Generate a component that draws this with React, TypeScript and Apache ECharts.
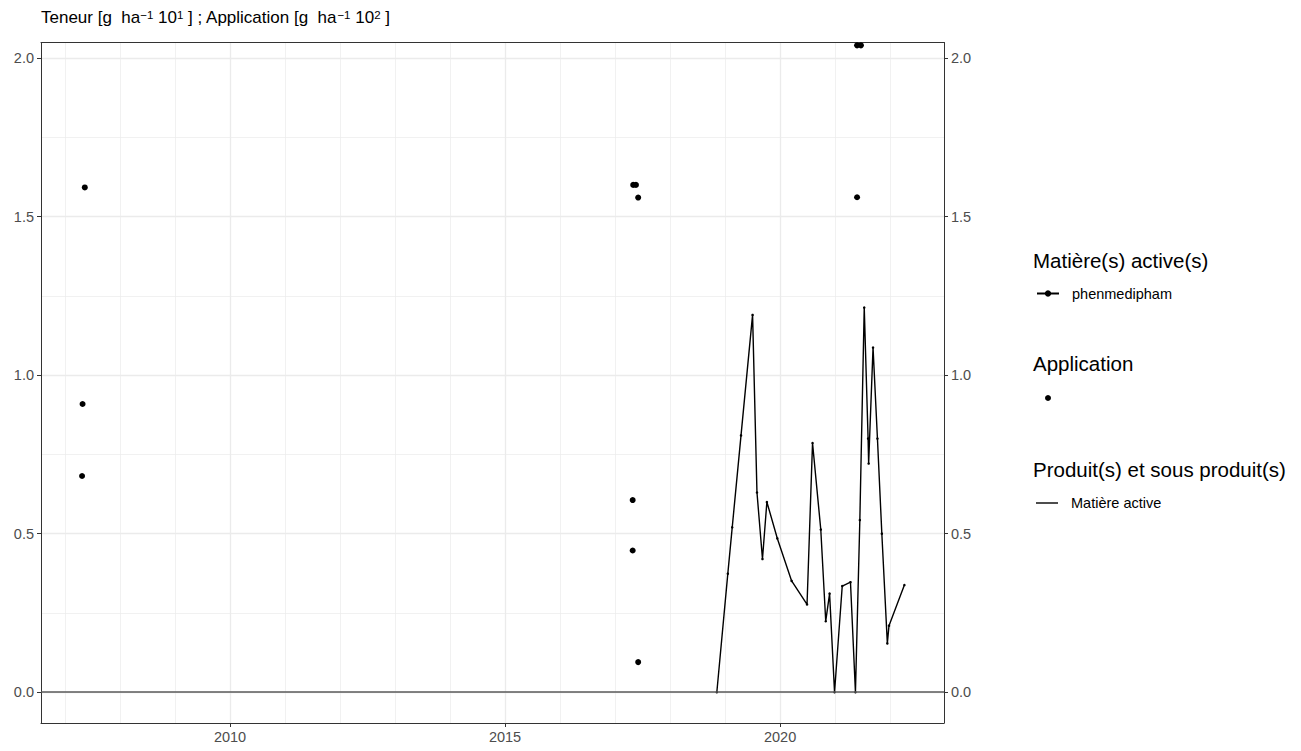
import React, { useEffect, useRef } from 'react';
import * as echarts from 'echarts';

// ---- data ----
const lineDates = [2018.85, 2019.05, 2019.13, 2019.29, 2019.5, 2019.58, 2019.68, 2019.76, 2019.95, 2020.21, 2020.49, 2020.59, 2020.74, 2020.83, 2020.9, 2020.99, 2021.13, 2021.28, 2021.37, 2021.45, 2021.53, 2021.6, 2021.61, 2021.69, 2021.77, 2021.85, 2021.95, 2021.98, 2022.26];
const lineValues = [0, 0.374, 0.52, 0.81, 1.19, 0.63, 0.42, 0.6, 0.485, 0.351, 0.277, 0.786, 0.513, 0.224, 0.311, 0, 0.335, 0.347, 0, 0.543, 1.213, 0.8, 0.721, 1.087, 0.8, 0.5, 0.154, 0.21, 0.338];

const appDates = [2007.36, 2007.32, 2007.31, 2017.33, 2017.38, 2017.42, 2017.32, 2017.32, 2017.42, 2021.4, 2021.47, 2021.4];
const appValues = [1.592, 0.909, 0.682, 1.6, 1.6, 1.56, 0.606, 0.447, 0.095, 2.04, 2.04, 1.561];

const xTickLabels = [2010, 2015, 2020];
const yTickLabels = [0, 0.5, 1, 1.5, 2];

const seriesName = 'phenmedipham';
const appName = 'Application';
const productName = 'Matière active';
const legendTitles = ['Matière(s) active(s)', 'Application', 'Produit(s) et sous produit(s)'];

const X_MIN = 2006.564;
const X_MAX = 2022.98;
const Y_MIN = -0.097;
const Y_MAX = 2.049;

const FONT = '"Liberation Sans", Arial, Helvetica, sans-serif';
const GRID_COL = '#ebebeb';
const BORDER_COL = '#333333';
const AXIS_FS = 14.5;
const LEGEND_FS = 14.5;
const LEGEND_TITLE_FS = 20.5;

export default function App() {
  const ref = useRef<HTMLDivElement>(null);

  useEffect(() => {
    const chart = echarts.init(ref.current as HTMLDivElement, null, { renderer: 'svg' });

    const lineData = lineDates.map((d, i) => [d, lineValues[i]]);
    const appData = appDates.map((d, i) => [d, appValues[i]]);

    const yFmt = (v: number) =>
      Math.abs(v * 2 - Math.round(v * 2)) < 1e-6 ? v.toFixed(1) : '';
    const xFmt = (v: number) =>
      Math.abs(v / 5 - Math.round(v / 5)) < 1e-6 ? String(Math.round(v)) : '';

    const yAxisLabel = {
      customValues: yTickLabels,
      color: '#4d4d4d',
      fontSize: AXIS_FS,
      fontFamily: FONT,
      margin: 7,
      formatter: yFmt,
    };

    const option: any = {
      animation: false,
      backgroundColor: '#ffffff',
      textStyle: { fontFamily: FONT },
      grid: { left: 41, right: 357, top: 42.5, bottom: 28, containLabel: false },
      xAxis: [
        {
          type: 'value',
          position: 'bottom',
          min: X_MIN,
          max: X_MAX,
          minInterval: 5,
          maxInterval: 5,
          axisLine: { show: true, onZero: false, lineStyle: { color: BORDER_COL, width: 1 } },
          axisTick: { show: true, length: 4, lineStyle: { color: BORDER_COL }, customValues: xTickLabels },
          axisLabel: {
            customValues: xTickLabels,
            color: '#4d4d4d',
            fontSize: AXIS_FS,
            fontFamily: FONT,
            margin: 6,
            formatter: xFmt,
          },
          splitLine: { show: true, lineStyle: { color: GRID_COL, width: 1.3 } },
        },
        {
          type: 'value',
          position: 'top',
          min: X_MIN,
          max: X_MAX,
          minInterval: 1,
          maxInterval: 1,
          axisLine: { show: true, onZero: false, lineStyle: { color: BORDER_COL, width: 1 } },
          axisTick: { show: false },
          axisLabel: { show: false },
          splitLine: { show: true, lineStyle: { color: GRID_COL, width: 0.7 } },
        },
      ],
      yAxis: [
        {
          type: 'value',
          position: 'left',
          min: Y_MIN,
          max: Y_MAX,
          minInterval: 0.5,
          maxInterval: 0.5,
          axisLine: { show: true, onZero: false, lineStyle: { color: BORDER_COL, width: 1 } },
          axisTick: { show: true, length: 4, lineStyle: { color: BORDER_COL }, customValues: yTickLabels },
          axisLabel: yAxisLabel,
          splitLine: { show: true, lineStyle: { color: GRID_COL, width: 1.3 } },
        },
        {
          type: 'value',
          position: 'right',
          min: Y_MIN,
          max: Y_MAX,
          minInterval: 0.5,
          maxInterval: 0.5,
          axisLine: { show: true, onZero: false, lineStyle: { color: BORDER_COL, width: 1 } },
          axisTick: { show: true, length: 4, lineStyle: { color: BORDER_COL }, customValues: yTickLabels },
          axisLabel: yAxisLabel,
          splitLine: { show: false },
        },
        {
          type: 'value',
          position: 'left',
          min: Y_MIN,
          max: Y_MAX,
          minInterval: 0.25,
          maxInterval: 0.25,
          axisLine: { show: false },
          axisTick: { show: false },
          axisLabel: { show: false },
          splitLine: { show: true, lineStyle: { color: GRID_COL, width: 0.7 } },
        },
      ],
      legend: [
        {
          data: [seriesName],
          left: 1036,
          top: 286,
          padding: 0,
          itemWidth: 22,
          itemHeight: 8,
          selectedMode: false,
          textStyle: { color: '#000', fontSize: LEGEND_FS, fontFamily: FONT, padding: [0, 0, 0, 8] },
        },
        {
          data: [appName],
          left: 1045,
          top: 395,
          padding: 0,
          itemWidth: 6,
          itemHeight: 6,
          selectedMode: false,
          formatter: () => '',
          textStyle: { color: '#000', fontSize: LEGEND_FS, fontFamily: FONT },
        },
        {
          data: [{ name: productName, icon: 'path://M0,0H22V1.4H0Z' }],
          left: 1036,
          top: 495.5,
          padding: 0,
          itemWidth: 22,
          itemHeight: 1.4,
          selectedMode: false,
          textStyle: { color: '#000', fontSize: LEGEND_FS, fontFamily: FONT, padding: [0, 0, 0, 8] },
        },
      ],
      graphic: [
        {
          type: 'text',
          x: 41,
          y: 9,
          style: {
            text:
              'Teneur [g  ha{sup|−1} 10{sup|1} ] ; Application [g  ha{sup|−1} 10{sup|2} ]',
            font: `17px ${FONT}`,
            fill: '#000',
            rich: {
              sup: { fontSize: 11.5, fontFamily: FONT, verticalAlign: 'top', lineHeight: 10, fill: '#000' },
            },
          },
        },
        {
          type: 'text',
          x: 1033,
          y: 260,
          style: { text: legendTitles[0], font: `${LEGEND_TITLE_FS}px ${FONT}`, fill: '#000', verticalAlign: 'middle' },
        },
        {
          type: 'text',
          x: 1033,
          y: 363,
          style: { text: legendTitles[1], font: `${LEGEND_TITLE_FS}px ${FONT}`, fill: '#000', verticalAlign: 'middle' },
        },
        {
          type: 'text',
          x: 1033,
          y: 469,
          style: { text: legendTitles[2], font: `${LEGEND_TITLE_FS}px ${FONT}`, fill: '#000', verticalAlign: 'middle' },
        },
      ],
      series: [
        {
          name: seriesName,
          type: 'line',
          xAxisIndex: 0,
          yAxisIndex: 0,
          data: lineData,
          symbol: 'circle',
          symbolSize: 2.5,
          showSymbol: true,
          color: '#000',
          lineStyle: { color: '#000', width: 1.4 },
          itemStyle: { color: '#000', opacity: 1 },
          z: 3,
          markLine: {
            silent: true,
            symbol: ['none', 'none'],
            label: { show: false },
            lineStyle: { color: '#5a5a5a', width: 1.6, type: 'solid', opacity: 1 },
            data: [{ yAxis: 0 }],
          },
        },
        {
          name: appName,
          type: 'scatter',
          xAxisIndex: 0,
          yAxisIndex: 0,
          data: appData,
          symbol: 'circle',
          symbolSize: 6,
          color: '#000',
          itemStyle: { color: '#000', opacity: 1 },
          z: 4,
        },
        {
          name: productName,
          type: 'line',
          xAxisIndex: 0,
          yAxisIndex: 0,
          data: [],
          symbol: 'none',
          color: '#000',
          lineStyle: { color: '#000', width: 1.4 },
        },
      ],
    };

    chart.setOption(option);
    return () => chart.dispose();
  }, []);

  return (
    <div
      ref={ref}
      style={{ position: 'fixed', left: 0, top: 0, width: 1301, height: 751, background: '#fff' }}
    />
  );
}
